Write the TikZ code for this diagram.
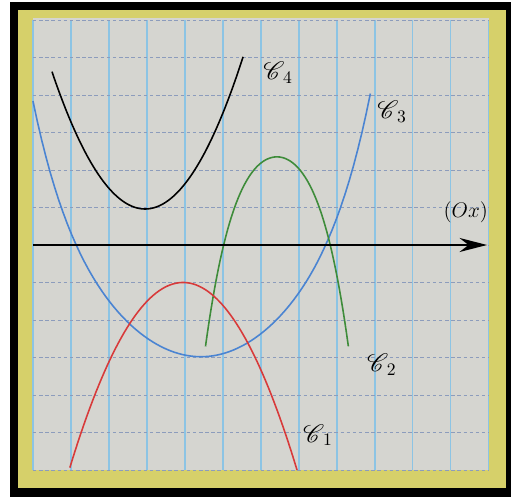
\documentclass[tikz,border=0pt]{standalone}
\usepackage{tikz}
\usepackage{amsmath}
\usepackage{mathrsfs}
\usetikzlibrary{arrows.meta}
\definecolor{rim}{HTML}{000000}
\definecolor{band}{HTML}{D6D06A}
\definecolor{paper}{HTML}{D5D5D0}
\definecolor{gridv}{HTML}{8CC4E4}
\definecolor{gridh}{HTML}{8C9CBC}
\definecolor{cblue}{HTML}{4A84D2}
\definecolor{cgreen}{HTML}{3E8C3A}
\definecolor{cred}{HTML}{D83A3A}

\begin{document}
\begin{tikzpicture}[x=0.76cm,y=0.75cm,
  vline/.style={draw=gridv,line width=0.6pt},
  hline/.style={draw=gridh,line width=0.5pt,dash pattern=on 2pt off 1.5pt},
  curve/.style={line width=0.9pt,samples=80},
  axis/.style={-{Stealth[length=5.5mm,width=2.8mm]},line width=1.2pt,draw=black},
  lbl/.style={font=\Large,inner sep=1pt}
]
\useasboundingbox (-0.868,-6.72) rectangle (12.58,6.533);
\fill[white] (-0.868,-6.72) rectangle (12.58,6.533);
\fill[rim] (-0.605,-6.72) rectangle (12.58,6.48);
\fill[band] (-0.395,-6.48) rectangle (12.447,6.267);
\fill[paper] (0,-6) rectangle (12,6.05);
\foreach \i in {0,...,12} \draw[vline] (\i,-6) -- (\i,6);
\foreach \j in {-6,...,6} \draw[hline] (0,\j) -- (12,\j);

% the four curves
\draw[curve,black,domain=0.5:5.53]
  plot (\x,{0.96+0.61*(\x-2.95)*(\x-2.95)});
\draw[curve,cblue,domain=0:8.88]
  plot (\x,{-2.98+0.245*(\x-4.42)*(\x-4.42)
            +0.00028*(\x-4.42)*(\x-4.42)*(\x-4.42)*(\x-4.42)*(\x-4.42)*(\x-4.42)});
\draw[curve,cgreen,domain=4.54:8.30]
  plot (\x,{2.35-0.9*(\x-6.42)*(\x-6.42)
            -0.15*(\x-6.42)*(\x-6.42)*(\x-6.42)*(\x-6.42)});
\draw[curve,cred,domain=0.97:6.95]
  plot (\x,{-1-0.556*(\x-3.95)*(\x-3.95)});

% axis
\coordinate (o) at (0,0);
\coordinate (tip) at (11.95,0);
\draw[axis] (o) -- (tip);
\node[font=\large] (ox) at (11.39,0.88) {$(Ox)$};

% labels
\node[lbl] (c4) at (6.45,4.59) {$\mathscr{C}_{\,4}$};
\node[lbl] (c3) at (9.45,3.55) {$\mathscr{C}_{\,3}$};
\node[lbl] (c2) at (9.18,-3.2) {$\mathscr{C}_{\,2}$};
\node[lbl] (c1) at (7.5,-5.07) {$\mathscr{C}_{\,1}$};
\end{tikzpicture}
\end{document}
